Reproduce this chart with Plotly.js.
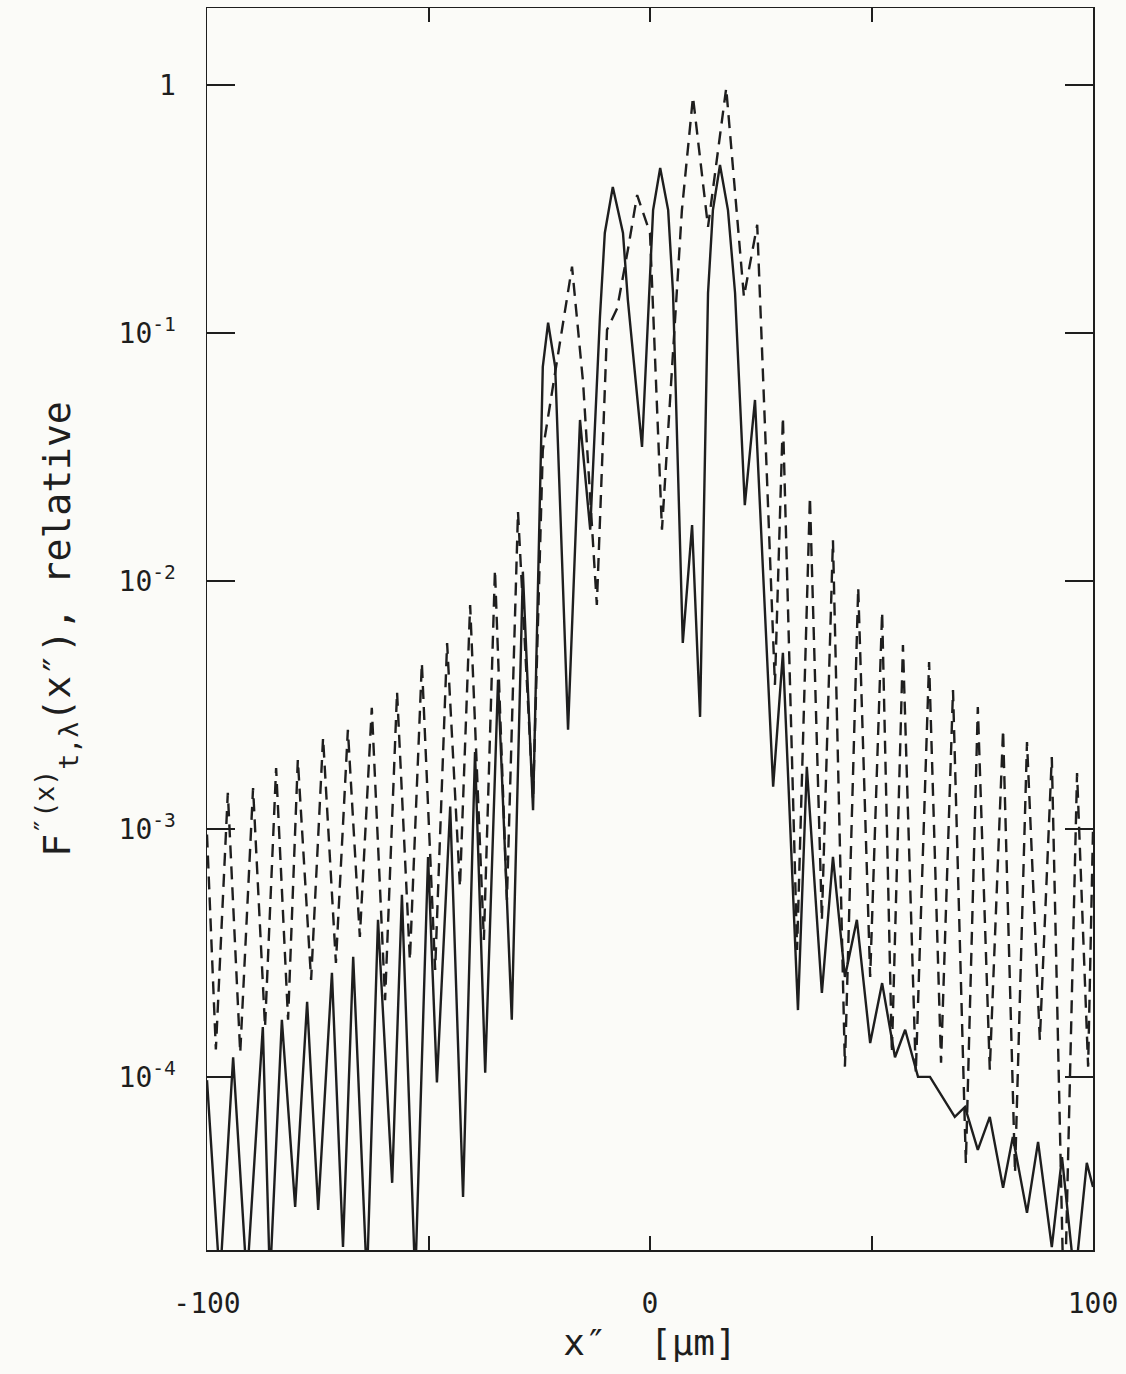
<!DOCTYPE html>
<html>
<head>
<meta charset="utf-8">
<script src="https://cdn.plot.ly/plotly-3.0.1.min.js"></script>
<style>html,body{margin:0;padding:0;background:#fbfbf8;}</style>
</head>
<body>
<div id="chart" style="width:1126px;height:1374px;"></div>
<script>
// x'' in micrometres, F relative
const solidX = [-100.0,-97.1,-94.1,-91.0,-87.4,-85.8,-83.1,-80.1,-77.4,-74.9,-71.8,-69.3,-67.0,-63.9,-61.4,-58.2,-56.0,-53.0,-50.1,-48.1,-45.1,-42.2,-39.5,-37.2,-34.3,-31.2,-28.7,-26.4,-24.2,-23.0,-21.4,-18.5,-15.8,-13.5,-11.3,-10.2,-8.4,-6.1,-5.0,-1.8,0.7,2.3,4.1,5.2,7.4,9.5,11.3,13.1,14.2,15.8,17.6,19.2,21.4,23.7,27.8,30.0,33.4,35.4,38.8,41.3,44.0,46.7,49.7,52.4,55.3,57.6,60.5,63.2,68.8,71.1,74.0,76.7,79.7,81.9,85.1,87.6,90.7,93.0,95.9,98.6,100.0];
const solidY = [9.7e-5,1.5e-5,1.20e-4,1.5e-5,1.59e-4,1.5e-5,1.70e-4,2.99e-5,2.01e-4,2.91e-5,2.63e-4,2.06e-5,3.05e-4,1.5e-5,4.30e-4,3.74e-5,5.42e-4,1.5e-5,7.71e-4,9.5e-5,1.23e-3,3.28e-5,2.04e-3,1.04e-4,3.99e-3,1.70e-4,1.09e-2,1.19e-3,7.3e-2,0.110,7.3e-2,2.51e-3,4.46e-2,1.61e-2,0.116,0.253,0.388,0.253,0.136,3.47e-2,0.313,0.463,0.313,0.145,5.62e-3,1.68e-2,2.83e-3,0.145,0.313,0.476,0.313,0.145,2.02e-2,5.37e-2,1.48e-3,5.13e-3,1.86e-4,1.78e-3,2.18e-4,7.71e-4,2.53e-4,4.30e-4,1.37e-4,2.39e-4,1.20e-4,1.55e-4,1.0e-4,1.0e-4,6.9e-5,7.57e-5,5.08e-5,6.9e-5,3.57e-5,5.73e-5,2.83e-5,5.47e-5,2.06e-5,4.75e-5,1.5e-5,4.50e-5,3.6e-5];

const dashedX = [-100.0,-98.0,-95.3,-92.5,-89.6,-86.9,-84.4,-81.7,-79.5,-76.5,-73.8,-70.9,-68.2,-65.5,-62.8,-59.8,-57.1,-54.2,-51.5,-48.5,-45.8,-42.9,-40.6,-37.5,-35.0,-32.3,-29.8,-26.4,-24.2,-21.0,-17.6,-15.1,-12.0,-9.7,-7.4,-5.0,-2.9,0.0,1.1,2.7,7.2,9.7,13.1,17.2,21.2,24.2,28.2,30.0,33.2,36.1,38.8,41.3,44.0,47.0,49.7,52.4,54.6,57.1,60.0,63.0,65.7,68.4,71.3,74.0,76.7,79.7,82.4,85.1,88.0,90.7,93.5,96.4,98.9,100.0];
const dashedY = [9.5e-4,1.29e-4,1.40e-3,1.25e-4,1.46e-3,1.59e-4,1.76e-3,1.70e-4,1.90e-3,2.46e-4,2.33e-3,2.88e-4,2.51e-3,3.67e-4,3.08e-3,2.04e-4,3.57e-3,2.96e-4,4.67e-3,2.70e-4,5.62e-3,5.84e-4,8.0e-3,3.57e-4,1.11e-2,5.17e-4,1.90e-2,1.31e-3,3.37e-2,7.57e-2,0.185,6.29e-2,8.0e-3,0.103,0.126,0.216,0.360,0.253,8.5e-2,1.61e-2,0.313,0.895,0.268,0.972,0.140,0.273,3.81e-3,4.58e-2,3.25e-4,2.18e-2,4.30e-4,1.46e-2,1.10e-4,9.4e-3,2.53e-4,7.5e-3,1.25e-4,5.52e-3,1.04e-4,4.71e-3,1.14e-4,3.63e-3,4.50e-5,3.10e-3,1.07e-4,2.51e-3,4.10e-5,2.24e-3,1.41e-4,1.95e-3,1.0e-5,1.68e-3,1.10e-4,9.9e-4];

const xTickVals = [-100,0,100];
const xTickText = ['-100','0','100'];
const xMinorStep = 50;
const yTickVals = [1e-4,1e-3,1e-2,1e-1,1];
const yTickText = ['10<sup>-4</sup>','10<sup>-3</sup>','10<sup>-2</sup>','10<sup>-1</sup>','1'];

const ink = '#1e1e1e';
const mono = 'DejaVu Sans Mono, Liberation Mono, monospace';

const traces = [
  {x: dashedX, y: dashedY, type:'scatter', mode:'lines', name:'dashed',
   line:{color:ink, width:2.4, dash:'13px,8px'}, showlegend:false},
  {x: solidX, y: solidY, type:'scatter', mode:'lines', name:'solid',
   line:{color:ink, width:2.4}, showlegend:false}
];

const layout = {
  width:1126, height:1374,
  margin:{l:207, r:33, t:8, b:124},
  paper_bgcolor:'#fbfbf8', plot_bgcolor:'#fbfbf8',
  font:{family:mono, color:ink, size:28},
  showlegend:false,
  xaxis:{
    range:[-100,100], tickmode:'array', tickvals:xTickVals, ticktext:xTickText,
    ticks:'inside', ticklen:14, tickwidth:2, tickcolor:ink,
    minor:{tickmode:'linear', tick0:0, dtick:xMinorStep, ticks:'inside', ticklen:14, tickwidth:2, tickcolor:ink, showgrid:false},
    showline:true, mirror:'ticks', linecolor:ink, linewidth:1.5,
    showgrid:false, zeroline:false, ticklabelstandoff:28,
    tickfont:{family:mono, size:28, color:ink},
    title:{text:'x\u2033  [\u00b5m]', font:{family:mono, size:36, color:ink}, standoff:10}
  },
  yaxis:{
    type:'log', range:[-4.698, 0.3105], tickmode:'array', tickvals:yTickVals, ticktext:yTickText,
    ticks:'inside', ticklen:28, tickwidth:2, tickcolor:ink,
    showline:true, mirror:'ticks', linecolor:ink, linewidth:1.5,
    showgrid:false, zeroline:false, ticklabelstandoff:24,
    tickfont:{family:mono, size:28, color:ink},
    title:{text:'F<sup>\u2033(x)</sup><sub>t,\u03bb</sub>(x\u2033), relative', font:{family:mono, size:38, color:ink}, standoff:36}
  }
};

Plotly.newPlot('chart', traces, layout, {displayModeBar:false, staticPlot:true});
</script>
</body>
</html>
